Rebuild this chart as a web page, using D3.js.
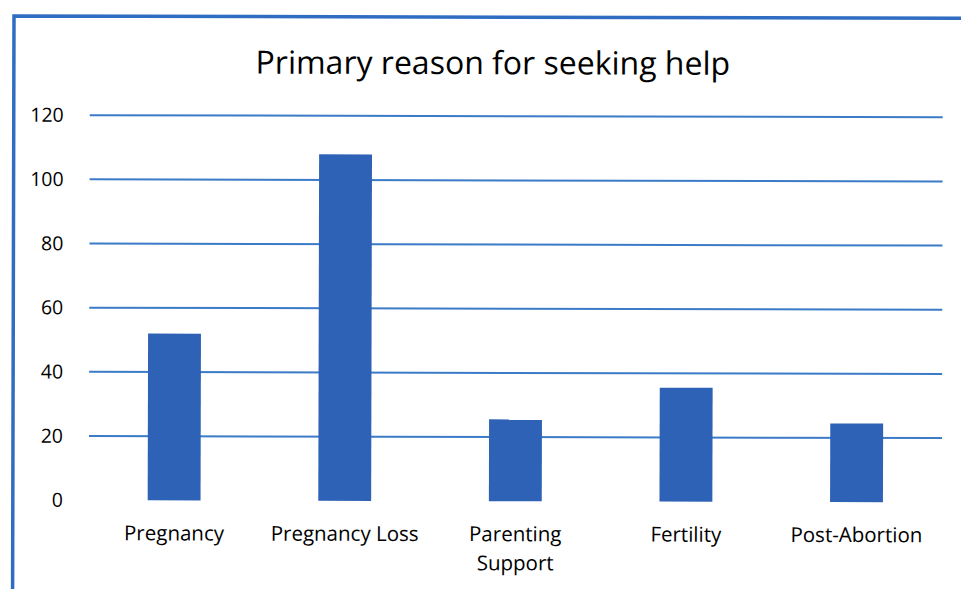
<!DOCTYPE html>
<html>
<head>
<meta charset="utf-8">
<script src="https://cdn.jsdelivr.net/npm/d3@7"></script>
<style>
  body { margin: 0; background: #fff; }
  svg { display: block; }
  text { font-family: "Open Sans", sans-serif; fill: #000; }
</style>
</head>
<body>
<svg id="chart" width="961" height="589"></svg>
<script>
const categories = ['Pregnancy', 'Pregnancy Loss', 'Parenting Support', 'Fertility', 'Post-Abortion'];
const values = [52, 108, 25.5, 35.5, 24.5];
const yTicks = [0, 20, 40, 60, 80, 100, 120];

const width = 961, height = 589;
const margin = { top: 115, right: 18, bottom: 89, left: 90 };

const svg = d3.select('#chart');
// the scan is tilted a little
const root = svg.append('g').attr('transform', 'rotate(0.14, 13, 15)');

// frame
root.append('path')
  .attr('d', `M14,${height + 5} V16 H${width + 5}`)
  .attr('fill', 'none')
  .attr('stroke', '#2f6dc2')
  .attr('stroke-width', 3.5);

const x = d3.scaleBand()
  .domain(categories)
  .range([margin.left, width - margin.right])
  .paddingInner(0.69)
  .paddingOuter(0.345);

const y = d3.scaleLinear()
  .domain([0, 120])
  .range([height - margin.bottom, margin.top]);

root.append('text')
  .attr('x', 493)
  .attr('y', 73)
  .attr('text-anchor', 'middle')
  .style('font-size', '32px')
  .text('Primary reason for seeking help');

// gridlines
root.append('g')
  .selectAll('line')
  .data(yTicks.filter(d => d > 0))
  .join('line')
  .attr('x1', margin.left)
  .attr('x2', width - margin.right)
  .attr('y1', d => y(d))
  .attr('y2', d => y(d))
  .attr('stroke', '#3b7bc8')
  .attr('stroke-width', 2);

// y axis labels
const yAxis = root.append('g')
  .attr('transform', `translate(${margin.left - 26},0)`)
  .call(d3.axisLeft(y).tickValues(yTicks).tickSize(0).tickPadding(0));
yAxis.select('.domain').remove();
yAxis.selectAll('text')
  .style('font-family', '"Open Sans", sans-serif')
  .style('font-size', '19.5px')
  .attr('fill', '#000');

// bars
root.append('g')
  .selectAll('rect')
  .data(values)
  .join('rect')
  .attr('x', (d, i) => x(categories[i]))
  .attr('width', x.bandwidth())
  .attr('y', d => y(d))
  .attr('height', d => y(0) - y(d))
  .attr('fill', '#2e62b6');

// category labels
const xAxis = root.append('g')
  .attr('transform', `translate(0,${height - margin.bottom})`)
  .call(d3.axisBottom(x).tickSize(0).tickPadding(0));
xAxis.select('.domain').remove();
xAxis.selectAll('text').remove();
xAxis.selectAll('.tick').each(function (d) {
  const words = d === 'Parenting Support' ? ['Parenting', 'Support'] : [d];
  const t = d3.select(this).append('text')
    .attr('text-anchor', 'middle')
    .style('font-size', '20.5px');
  words.forEach((w, i) => {
    t.append('tspan').attr('x', 0).attr('y', 40 + i * 29).text(w);
  });
});
</script>
</body>
</html>
